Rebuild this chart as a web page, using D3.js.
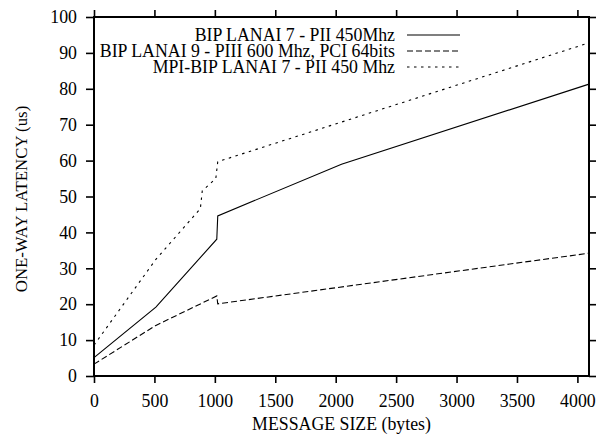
<!DOCTYPE html>
<html>
<head>
<meta charset="utf-8">
<script src="https://cdn.jsdelivr.net/npm/d3@7"></script>
<style>
  body { margin: 0; background: #fff; }
  svg { display: block; }
  svg text { font-family: "Liberation Serif", "Times New Roman", serif; fill: #000; }
  .tick text { font-size: 17.8px; }
</style>
</head>
<body>
<svg id="chart" width="597" height="439"></svg>
<script>
// data
var seriesNames = [
  "BIP LANAI 7 - PII 450Mhz",
  "BIP LANAI 9 - PIII 600 Mhz, PCI 64bits",
  "MPI-BIP LANAI 7 - PII 450 Mhz"
];
var lanai7Size = [0, 512, 1016, 1024, 2048, 4096];
var lanai7Lat = [5.1, 19.2, 38.1, 44.6, 59, 81.3];
var lanai9Size = [0, 512, 1016, 1024, 4096];
var lanai9Lat = [3.3, 14.1, 22.3, 20.1, 34.2];
var mpiSize = [0, 512, 880, 896, 1008, 1024, 4096];
var mpiLat = [8.6, 32.5, 46.6, 51.6, 55, 59.7, 92.8];
var xTicks = [0, 500, 1000, 1500, 2000, 2500, 3000, 3500, 4000];
var yTicks = [0, 10, 20, 30, 40, 50, 60, 70, 80, 90, 100];

var margin = {left: 94, right: 8, top: 17, bottom: 63};
var svg = d3.select("#chart"),
    W = +svg.attr("width"), H = +svg.attr("height"),
    w = W - margin.left - margin.right,
    h = H - margin.top - margin.bottom;

var x = d3.scaleLinear().domain([0, 4096]).range([0, w]);
var y = d3.scaleLinear().domain([0, 100]).range([h, 0]);

var g = svg.append("g").attr("transform", "translate(" + margin.left + "," + margin.top + ")");

// axes (gnuplot style: ticks on all four sides, pointing out)
var xb = g.append("g").attr("transform", "translate(0," + h + ")")
  .call(d3.axisBottom(x).tickValues(xTicks).tickSize(7).tickPadding(11).tickFormat(d3.format("d")));
var yl = g.append("g")
  .call(d3.axisLeft(y).tickValues(yTicks).tickSize(8).tickPadding(9));
var xt = g.append("g")
  .call(d3.axisTop(x).tickValues(xTicks).tickSize(7).tickFormat(""));
var yr = g.append("g").attr("transform", "translate(" + w + ",0)")
  .call(d3.axisRight(y).tickValues(yTicks).tickSize(7).tickFormat(""));
[xb, yl, xt, yr].forEach(function (a) {
  a.attr("font-family", null).attr("font-size", null);
  a.select(".domain").remove();
  a.selectAll(".tick line").attr("stroke", "#000").attr("stroke-width", 1.6);
});
xb.selectAll(".tick text").attr("dy", "0.71em");

g.append("rect").attr("width", w).attr("height", h)
  .attr("fill", "none").attr("stroke", "#000").attr("stroke-width", 2);

// curves
var line = d3.line().x(function (d) { return x(d[0]); }).y(function (d) { return y(d[1]); });
var dashes = [null, "6,3", "2.5,4.5"];
var series = [
  d3.zip(lanai7Size, lanai7Lat),
  d3.zip(lanai9Size, lanai9Lat),
  d3.zip(mpiSize, mpiLat)
];
series.forEach(function (s, i) {
  g.append("path").datum(s).attr("d", line)
    .attr("fill", "none").attr("stroke", "#000").attr("stroke-width", 1.1)
    .attr("stroke-dasharray", dashes[i]);
});

// legend
var leg = g.append("g");
seriesNames.forEach(function (n, i) {
  var yy = 18 + i * 16;
  leg.append("text").attr("x", 301).attr("y", yy).attr("dy", "0.35em")
    .attr("text-anchor", "end").attr("font-size", 17.8).text(n);
  leg.append("line").attr("x1", 313).attr("x2", 366).attr("y1", yy).attr("y2", yy)
    .attr("stroke", "#000").attr("stroke-width", 1.1).attr("stroke-dasharray", dashes[i]);
});

// axis titles
svg.append("text").attr("x", margin.left + w / 2).attr("y", 430)
  .attr("text-anchor", "middle").attr("font-size", 17.8).text("MESSAGE SIZE (bytes)");
svg.append("text").attr("transform", "translate(27,199) rotate(-90)")
  .attr("text-anchor", "middle").attr("font-size", 16.8).text("ONE-WAY LATENCY (us)");
</script>
</body>
</html>
